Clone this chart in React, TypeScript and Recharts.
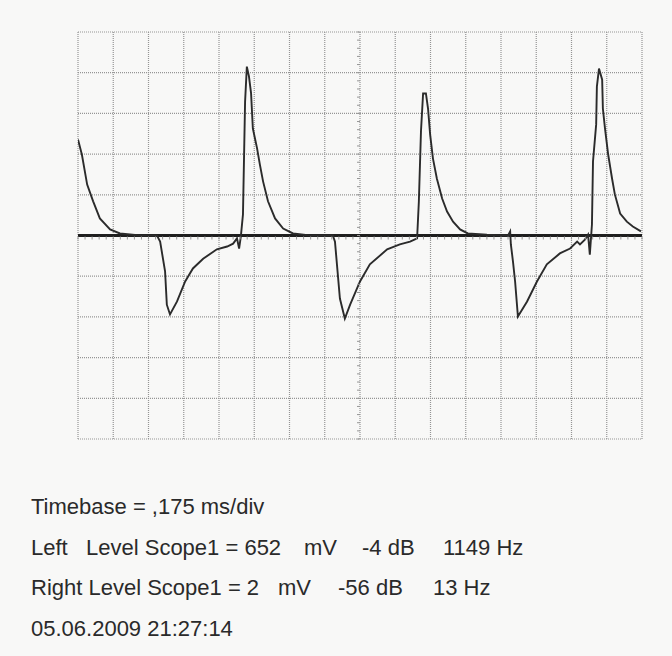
import React from 'react';
import { LineChart, Line, XAxis, YAxis, CartesianGrid, ReferenceDot } from 'recharts';

// time in divisions (0.175 ms/div), level in divisions
const leftTime = [
  0, 0.11, 0.26, 0.43, 0.62, 0.91, 1.19, 1.76, 2.24, 2.33, 2.47, 2.52, 2.61, 2.81, 3.04, 3.26, 3.55, 3.94,
  4.23, 4.4, 4.51, 4.57, 4.62, 4.68, 4.74, 4.79, 4.85, 4.91, 4.96, 5.08, 5.16, 5.25, 5.39, 5.59, 5.82, 6.1,
  6.58, 7.23, 7.29, 7.43, 7.57, 7.72, 8.0, 8.28, 8.77, 9.13, 9.42, 9.62, 9.67, 9.73, 9.79, 9.87, 9.93, 9.99,
  10.07, 10.18, 10.33, 10.47, 10.64, 10.84, 11.06, 11.6, 12.2, 12.26, 12.28, 12.34, 12.4, 12.48, 12.74, 13.02,
  13.3, 13.67, 13.96, 14.16, 14.24, 14.38, 14.47, 14.52, 14.58, 14.61, 14.7, 14.72, 14.78, 14.87, 14.89, 14.95,
  15.04, 15.15, 15.23, 15.38, 15.57, 15.74, 15.97,
];
const leftLevel = [
  2.36, 1.99, 1.25, 0.84, 0.42, 0.15, 0.05, 0, 0, -0.15, -0.88, -1.7, -1.94, -1.62, -1.13, -0.81, -0.57, -0.34,
  -0.27, -0.2, -0.07, -0.32, -0.02, 0.52, 3.29, 4.15, 3.91, 3.49, 2.63, 2.14, 1.74, 1.33, 0.84, 0.42, 0.17, 0.05,
  0, 0, -0.15, -1.55, -2.04, -1.7, -1.13, -0.71, -0.34, -0.22, -0.15, -0.07, 0.84, 2.56, 3.49, 3.49, 3.12, 2.48,
  1.89, 1.4, 0.91, 0.59, 0.34, 0.15, 0.05, 0.02, 0, 0.1, -0.22, -0.64, -1.13, -1.99, -1.62, -1.13,
  -0.71, -0.44, -0.32, -0.15, -0.22, -0.1, 0.02, -0.47, 0.27, 1.82, 2.73, 3.66, 4.1, 3.83, 3.12, 2.63,
  1.99, 1.4, 1.01, 0.54, 0.34, 0.22, 0.1,
];
const rightTime = [0, 16];
const rightLevel = [0, 0];

const xTicks = [0, 1, 2, 3, 4, 5, 6, 7, 8, 9, 10, 11, 12, 13, 14, 15, 16];
const yTicks = [-5, -4, -3, -2, -1, 0, 1, 2, 3, 4, 5];
const minorX = Array.from({ length: 81 }, (_, i) => i / 5);
const minorY = Array.from({ length: 51 }, (_, i) => -5 + i / 5);

const infoLines = [
  [{ x: 31, t: 'Timebase = ,175 ms/div' }],
  [
    { x: 31, t: 'Left' },
    { x: 86, t: 'Level Scope1 = 652' },
    { x: 304, t: 'mV' },
    { x: 362, t: '-4 dB' },
    { x: 443, t: '1149 Hz' },
  ],
  [
    { x: 31, t: 'Right Level Scope1 = 2' },
    { x: 278, t: 'mV' },
    { x: 338, t: '-56 dB' },
    { x: 433, t: '13 Hz' },
  ],
  [{ x: 31, t: '05.06.2009 21:27:14' }],
];
const infoBaselines = [514, 555, 595, 636];

const leftData = leftTime.map((t, i) => ({ t, v: leftLevel[i] }));
const rightData = rightTime.map((t, i) => ({ t, v: rightLevel[i] }));

const grid = '#959595';

export default function App() {
  return (
    <div style={{ position: 'absolute', left: 0, top: 0, width: 672, height: 656, background: '#f8f8f7' }}>
      <LineChart width={672} height={656} margin={{ top: 32, left: 78, right: 30, bottom: 217 }}>
        <XAxis type="number" dataKey="t" domain={[0, 16]} ticks={xTicks} hide allowDataOverflow />
        <YAxis type="number" dataKey="v" domain={[-5, 5]} ticks={yTicks} hide allowDataOverflow />
        <CartesianGrid stroke={grid} strokeDasharray="1 1" strokeWidth={1.2} />
        {minorX.map((m) => (
          <ReferenceDot
            key={'mx' + m}
            x={m}
            y={0}
            r={0}
            shape={(p: any) => <line x1={p.cx} y1={p.cy + 1} x2={p.cx} y2={p.cy + 4} stroke={grid} strokeWidth={1} />}
          />
        ))}
        {minorY.map((m) => (
          <ReferenceDot
            key={'my' + m}
            x={8}
            y={m}
            r={0}
            shape={(p: any) => <line x1={p.cx - 3} y1={p.cy} x2={p.cx} y2={p.cy} stroke={grid} strokeWidth={1} />}
          />
        ))}
        <Line
          data={rightData}
          dataKey="v"
          type="linear"
          stroke="#1e1e1e"
          strokeWidth={3}
          dot={false}
          isAnimationActive={false}
        />
        <Line
          data={leftData}
          dataKey="v"
          type="linear"
          stroke="#2b2b2b"
          strokeWidth={1.9}
          dot={false}
          isAnimationActive={false}
        />
      </LineChart>
      <svg width={672} height={656} style={{ position: 'absolute', left: 0, top: 0, pointerEvents: 'none' }}>
        {infoLines.map((line, i) =>
          line.map((s) => (
            <text
              key={i + s.t}
              x={s.x}
              y={infoBaselines[i]}
              fontFamily="'Liberation Sans', Arial, sans-serif"
              fontSize={22}
              fill="#2a2a2a"
            >
              {s.t}
            </text>
          ))
        )}
      </svg>
    </div>
  );
}
